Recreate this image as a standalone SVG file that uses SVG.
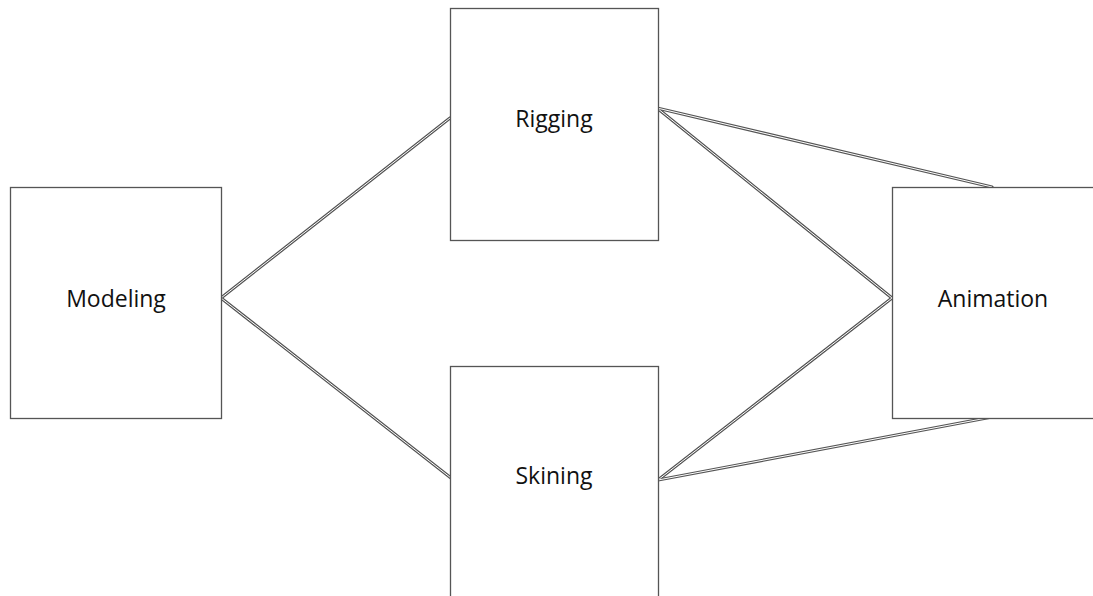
<svg xmlns="http://www.w3.org/2000/svg" width="1093" height="596" viewBox="0 0 1093 596">
<style>
.box{fill:#fff;stroke:#555;stroke-width:1.3}
.lbl{font-family:"Open Sans","Noto Sans",sans-serif;font-size:23px;fill:#111;text-anchor:middle;dominant-baseline:central}
.co{stroke:#555;stroke-width:3.2;fill:none;stroke-linecap:round}
.ci{stroke:#fff;stroke-width:1;fill:none}
</style>
<rect width="1093" height="596" fill="#fff"/>
<g id="connectors">
<g id="outer">
<line class="co" x1="221" y1="298" x2="450" y2="118"/>
<line class="co" x1="221" y1="298" x2="451" y2="478"/>
<line class="co" x1="657" y1="108" x2="892" y2="298"/>
<line class="co" x1="657" y1="108" x2="992" y2="187"/>
<line class="co" x1="658" y1="480" x2="892" y2="298"/>
<line class="co" x1="658" y1="480" x2="992" y2="417"/>
</g>
<g id="inner">
<line class="ci" x1="221" y1="298" x2="450" y2="118"/>
<line class="ci" x1="221" y1="298" x2="451" y2="478"/>
<line class="ci" x1="657" y1="108" x2="892" y2="298"/>
<line class="ci" x1="657" y1="108" x2="992" y2="187"/>
<line class="ci" x1="658" y1="480" x2="892" y2="298"/>
<line class="ci" x1="658" y1="480" x2="992" y2="417"/>
</g>
</g>
<g id="modeling">
<rect class="box" x="10.5" y="187.5" width="211" height="231"/>
<text class="lbl" x="116" y="298">Modeling</text>
</g>
<g id="rigging">
<rect class="box" x="450.5" y="8.5" width="208" height="232"/>
<text class="lbl" x="554" y="118">Rigging</text>
</g>
<g id="skining">
<rect class="box" x="450.5" y="366.5" width="208" height="240"/>
<text class="lbl" x="554" y="475">Skining</text>
</g>
<g id="animation">
<rect class="box" x="892.5" y="187.5" width="210" height="231"/>
<text class="lbl" x="993" y="298">Animation</text>
</g>
</svg>
